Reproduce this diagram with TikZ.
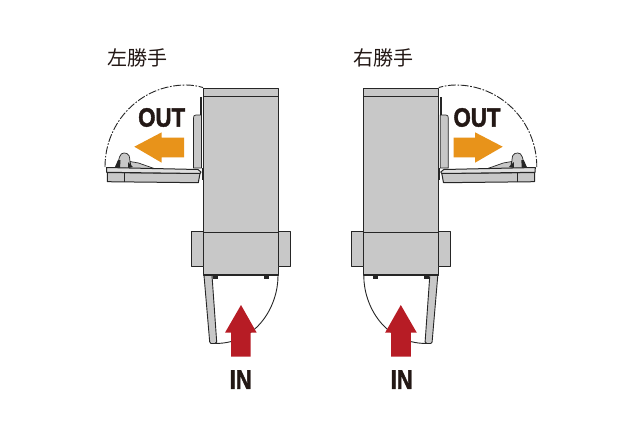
\documentclass[tikz,border=0pt]{standalone}
\usepackage{fontspec}
\setmainfont{Liberation Sans}
\newfontfamily\cjkface{Noto Sans CJK JP}
\newfontfamily\outface[FakeStretch=0.84,FakeBold=1.6]{Liberation Sans Bold}
\newfontfamily\inface[FakeStretch=0.82,FakeBold=1.6]{Liberation Sans Bold}
\definecolor{bodygray}{HTML}{C8C8C8}
\definecolor{inkline}{HTML}{262626}
\definecolor{arroworange}{HTML}{E8931A}
\definecolor{arrowred}{HTML}{B71C25}
\definecolor{labelink}{HTML}{231815}
\tikzset{
  part/.style={draw=inkline,fill=bodygray,line width=1pt,line join=round},
  edge/.style={draw=inkline,line width=1pt},
  swing/.style={draw=inkline,line width=0.9pt},
  swingdash/.style={draw=inkline,line width=0.9pt,dash pattern=on 8pt off 1.6pt on 1.6pt off 1.6pt},
  outlabel/.style={text=labelink,inner sep=0pt,font=\outface\fontsize{26.5}{27}\selectfont},
  inlabel/.style={text=labelink,inner sep=0pt,font=\inface\fontsize{27}{27}\selectfont},
  titlelabel/.style={text=labelink,inner sep=0pt,font=\cjkface\fontsize{20}{20}\selectfont}
}
\newcommand{\cabinetunit}{%
  % swing paths
  \draw[swingdash] (105,167) .. controls (105,121.3) and (141.3,85) .. (186,85) .. controls (192,85) and (198,86) .. (203,87.5);
  \draw[swing] (278,276) .. controls (278,305) and (258,343.5) .. (215,343.5);
  % side rail
  \draw[edge,line width=1.4pt] (201,97) -- (201,115);
  \draw[part,line width=0.7pt] (201.5,115) -- (196,115) .. controls (194,115) and (193.5,116) .. (193.5,118) -- (193.5,168) -- (201.5,168) -- cycle;
  \draw[edge] (202,168) -- (202,180);
  % body
  \draw[part] (203.5,88.5) rectangle (278,275);
  \draw[edge] (203.5,96.5) -- (278,96.5);
  % collar
  \draw[part] (191.7,231.7) rectangle (203.5,266.7);
  \draw[part] (278,231.7) rectangle (290,266.7);
  \draw[edge] (203.5,232) -- (278,232);
  % feet
  \fill[inkline] (213,275) rectangle (218,278.5);
  \fill[inkline] (264,275) rectangle (269,278.5);
  \draw[edge,line width=1.3pt] (203.5,275) -- (278,275);
  % lower door
  \draw[part,line width=0.9pt] (204,275.5) -- (212,275.5) -- (216.7,342) -- (215,343.5) -- (211,343.5) -- (209.7,342) -- cycle;
  % door and handle
  \draw[part,line width=0.7pt] (116.5,168) -- (119.5,157) .. controls (120.5,154) and (122,153) .. (124,153) -- (127,153.5) .. controls (129,154) and (129.5,156) .. (130,161.5) -- (138.5,163) -- (157,169.5) -- cycle;
  \draw[edge] (130,161.5) -- (131,167);
  \fill[inkline] (114.5,168) -- (118,160) -- (120.5,160) -- (120,168) -- cycle;
  \fill[inkline] (128,162) -- (133,167) -- (128,168) -- cycle;
  \draw[part] (107.3,172.5) -- (200,173.5) -- (198.3,182.7) -- (107.3,181.7) -- cycle;
  \draw[edge,line width=0.7pt] (124.3,173) -- (124.3,182);
  \draw[part,fill=bodygray!60] (106.5,167.5) -- (198,169.5) -- (201,172) -- (200,173.5) -- (106.7,172.3) -- cycle;
  % red arrow
  \fill[arrowred] (241,305) -- (256.7,332.7) -- (250.7,332.7) -- (250.7,356.7) -- (231,356.7) -- (231,332.7) -- (225,332.7) -- cycle;
}
\begin{document}
\begin{tikzpicture}[x=1pt,y=-1pt]
\useasboundingbox (0,0) rectangle (640,440);
\fill[white] (0,0) rectangle (640,440);
\cabinetunit
\begin{scope}[xshift=641.8pt,xscale=-1]
\cabinetunit
\end{scope}
\fill[arroworange] (134.3,146.7) -- (161.7,132.3) -- (161.7,137.7) -- (184,137.7) -- (184,157.3) -- (161.7,157.3) -- (161.7,162.7) -- cycle;
\fill[arroworange] (502.7,146.7) -- (475,132.3) -- (475,137.7) -- (453.5,137.7) -- (453.5,157.3) -- (475,157.3) -- (475,162.7) -- cycle;
\node[titlelabel] (titleleft) at (137,58) {左勝手};
\node[titlelabel] (titleright) at (383,58) {右勝手};
\node[outlabel] (outleft) at (161.7,117.5) {OUT};
\node[outlabel] (outright) at (477,117.5) {OUT};
\node[inlabel] (inleft) at (240.7,379.5) {IN};
\node[inlabel] (inright) at (401.7,379.5) {IN};
\end{tikzpicture}
\end{document}
